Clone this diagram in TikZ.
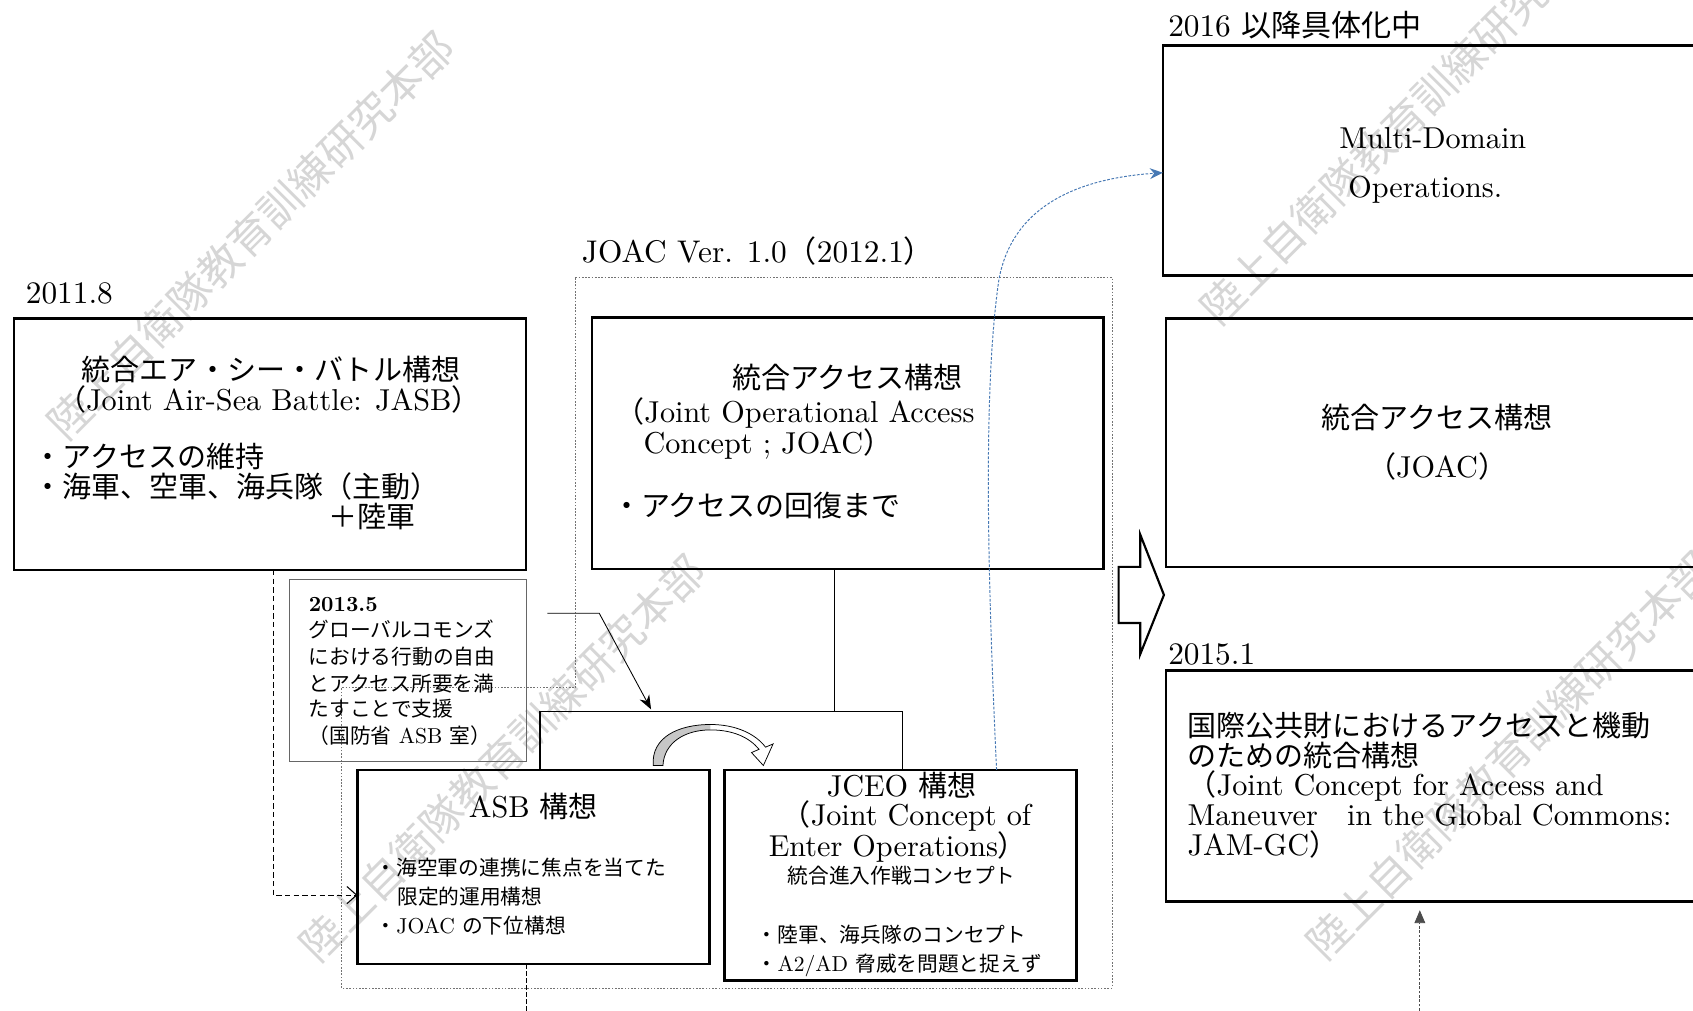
\documentclass[tikz,border=0pt]{standalone}
\usepackage{fontspec}
\setmainfont{lmroman10-regular.otf}[BoldFont=lmroman10-bold.otf]
\newfontfamily\jpf[Scale=0.96]{Noto Sans CJK JP}
\usetikzlibrary{arrows.meta}
\newcommand\J[1]{{\jpf #1}}
\definecolor{wmk}{gray}{0.84}
\definecolor{bl}{RGB}{70,120,180}
\begin{document}
\begin{tikzpicture}[x=1pt,y=-1pt,
  bx/.style={draw,line width=2.2pt,inner sep=0,outer sep=0},
  nbx/.style={draw=black!60,line width=0.8pt,inner sep=0,outer sep=0},
  lb/.style={inner sep=0,outer sep=0,anchor=base west,font=\fontsize{29}{29}\selectfont},
  tl/.style={inner sep=0,outer sep=0,anchor=base west,font=\fontsize{28}{28}\selectfont},
  tc/.style={inner sep=0,outer sep=0,anchor=base,font=\fontsize{28}{28}\selectfont},
  sl/.style={inner sep=0,outer sep=0,anchor=base west,font=\fontsize{20}{20}\selectfont},
  sc/.style={inner sep=0,outer sep=0,anchor=base,font=\fontsize{20}{20}\selectfont},
  wm/.style={inner sep=0,rotate=45,text=wmk,font=\fontsize{41}{41}\jpf},
  conn/.style={line width=1.3pt},
  thinl/.style={line width=0.8pt},
  dashl/.style={line width=1pt,dash pattern=on 5pt off 3pt},
  dotbox/.style={draw=black!55,line width=0.8pt,dash pattern=on 1.5pt off 1.5pt},
  bline/.style={draw=bl,line width=0.9pt,dash pattern=on 2.5pt off 1.5pt},
  updash/.style={draw=black!70,line width=0.8pt,dash pattern=on 2.5pt off 1.5pt}]
\useasboundingbox (0,0) rectangle (1568,936);
\fill[white] (0,0) rectangle (1568,936);
\clip (0,0) rectangle (1568,936);

% watermarks
\node[wm] (w1) at (232,218) {陸上自衛隊教育訓練研究本部};
\node[wm] (w2) at (465,702) {陸上自衛隊教育訓練研究本部};
\node[wm] (w3) at (1300,112) {陸上自衛隊教育訓練研究本部};
\node[wm] (w4) at (1398,700) {陸上自衛隊教育訓練研究本部};

% dotted group frame
\draw[dotbox] (533,257) -- (1030,257) -- (1030,915) -- (316,915) -- (316,637) -- (533,637) -- cycle;

% boxes
\node[bx,minimum width=523pt,minimum height=213pt] (mdo) at (1338.5,148.5) {};
\node[bx,minimum width=520pt,minimum height=230pt] (joacR) at (1340,410) {};
\node[bx,minimum width=520pt,minimum height=214pt] (jamgc) at (1340,728) {};
\node[bx,minimum width=474pt,minimum height=233pt] (jasb) at (250,411.5) {};
\node[bx,minimum width=474pt,minimum height=233pt] (joac) at (785,410.5) {};
\node[nbx,minimum width=220pt,minimum height=168pt] (note) at (378,621) {};
\node[bx,minimum width=326pt,minimum height=180pt] (asb) at (494,803) {};
\node[bx,minimum width=326pt,minimum height=195pt] (jceo) at (834,810.5) {};

% tree connector
\coordinate (tM) at (773,659);
\coordinate (tL) at (500,659);
\coordinate (tR) at (836,659);
\draw[conn] (joac.south -| tM) -- (tM);
\draw[conn] (asb.north -| tL) -- (tL) -- (tR) -- (jceo.north -| tR);

% note arrow
\coordinate (nA) at (507,568);
\coordinate (nB) at (555,568);
\coordinate (nC) at (603,657);
\draw[thinl,-{Stealth[length=13pt,width=10pt]}] (nA) -- (nB) -- (nC);

% dashed JASB -> ASB
\coordinate (dA) at (253,829);
\draw[dashl,-{Straight Barb[length=9pt,width=16pt]}] (jasb.south -| dA) -- (dA) -- (asb.west |- dA);

% dashed below ASB
\coordinate (aB) at (488,940);
\draw[line width=0.8pt,dash pattern=on 4pt off 2.5pt] (asb.south -| aB) -- (aB);

% blue dotted curve
\coordinate (bx) at (923,0);
\draw[bline,-{Stealth[length=12pt,width=10pt]}] (jceo.north -| bx) .. controls (913,500) and (912,350) .. (925,260) .. controls (937,190) and (1000,165) .. ([yshift=-11.5pt]mdo.west);

% up arrow to JAM-GC
\coordinate (uS) at (1315,940);
\draw[updash,-{Triangle[length=12pt,width=10pt]},shorten >=8pt] (uS) -- (jamgc.south -| uS);

% big hollow arrow
\draw[line width=2pt,fill=white,line join=miter] (1036,525) -- (1056,525) -- (1056,495) -- (1078,551) -- (1056,606) -- (1056,577) -- (1036,577) -- cycle;

% curved arrow ASB -> JCEO
\fill[black!22] (605,709) .. controls (603,683) and (628,671) .. (658,671) -- (658,676) .. controls (634,676) and (615,688) .. (614,709) -- cycle;
\draw[line width=0.7pt,line join=miter] (605,709) .. controls (603,683) and (628,671) .. (658,671)
  .. controls (682,671) and (700,680) .. (709,692) -- (716,689) -- (707,709) -- (696,697) -- (703,694)
  .. controls (694,683) and (679,676) .. (658,676) .. controls (634,676) and (615,688) .. (614,709) -- cycle;

% labels
\node[lb] (l2016) at (1082,34) {2016 \J{以降具体化中}};
\node[lb] (l2011) at (24,281) {2011.8};
\node[lb] (ljoac) at (539,243) {JOAC Ver. 1.0\J{（}2012.1\J{）}};
\node[lb] (l2015) at (1082,615) {2015.1};

% JASB text
\node[tc] (j1) at (251,352) {\J{統合エア・シー・バトル構想}};
\node[tc] (j2) at (249,380) {\J{（}Joint Air-Sea Battle: JASB\J{）}};
\node[tl] (j3) at (31,433) {\J{・アクセスの維持}};
\node[tl] (j4) at (31,461) {\J{・海軍、空軍、海兵隊（主動）}};
\node[tl] (j5) at (304,489) {\J{＋陸軍}};

% JOAC text
\node[tl] (o1) at (678,360) {\J{統合アクセス構想}};
\node[tl] (o2) at (570,391) {\J{（}Joint Operational Access};
\node[tl] (o3) at (596,420) {Concept ; JOAC\J{）}};
\node[tl] (o4) at (567,478) {\J{・アクセスの回復まで}};

% MDO text
\node[tc] (m1) at (1327,138) {Multi-Domain};
\node[tc] (m2) at (1320,183) {Operations.};

% JOAC right
\node[tc] (r1) at (1331,397) {\J{統合アクセス構想}};
\node[tc] (r2) at (1331,442) {\J{（}JOAC\J{）}};

% JAM-GC
\node[tl] (g1) at (1100,682) {\J{国際公共財におけるアクセスと機動}};
\node[tl] (g2) at (1100,710) {\J{のための統合構想}};
\node[tl] (g3) at (1100,737) {\J{（}Joint Concept for Access and};
\node[tl] (g4) at (1100,765) {Maneuver\J{　}in the Global Commons:};
\node[tl] (g5) at (1100,792) {JAM-GC\J{）}};

% note text
\node[sl] (n0) at (286,566) {\bfseries 2013.5};
\node[sl] (n1) at (286,590) {\J{グローバルコモンズ}};
\node[sl] (n2) at (286,615) {\J{における行動の自由}};
\node[sl] (n3) at (286,640) {\J{とアクセス所要を満}};
\node[sl] (n4) at (286,664) {\J{たすことで支援}};
\node[sl] (n5) at (286,689) {\J{（国防省} ASB \J{室）}};

% ASB text
\node[tc] (a1) at (494,757) {ASB \J{構想}};
\node[sl] (a2) at (348,811) {\J{・海空軍の連携に焦点を当てた}};
\node[sl] (a3) at (368,838) {\J{限定的運用構想}};
\node[sl] (a4) at (348,865) {\J{・}JOAC \J{の下位構想}};

% JCEO text
\node[tc] (c1) at (835,738) {JCEO \J{構想}};
\node[tl] (c2) at (724,765) {\J{（}Joint Concept of};
\node[tl] (c3) at (712,793) {Enter Operations\J{）}};
\node[sc] (c4) at (835,818) {\J{統合進入作戦コンセプト}};
\node[sl] (c5) at (701,873) {\J{・陸軍、海兵隊のコンセプト}};
\node[sl] (c6) at (701,900) {\J{・}A2/AD \J{脅威を問題と捉えず}};
\end{tikzpicture}
\end{document}
